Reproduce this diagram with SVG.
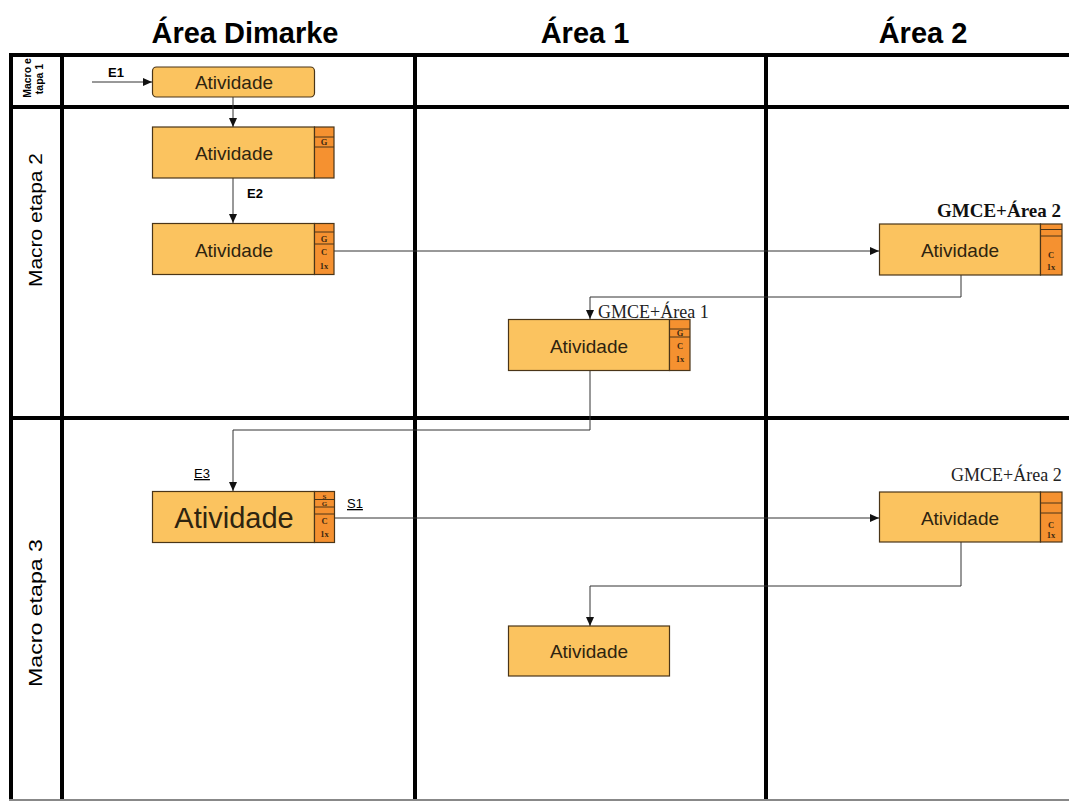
<svg xmlns="http://www.w3.org/2000/svg" width="1069" height="802" viewBox="0 0 1069 802">
  <style>
    .hdr { font-family: "Liberation Sans", Arial, sans-serif; font-weight: bold; font-size: 29px; fill: #000; text-anchor: middle; }
    .row { font-family: "Liberation Sans", Arial, sans-serif; font-size: 18px; fill: #000; text-anchor: middle; }
    .grid { stroke: #000; stroke-width: 4; fill: none; }
    .box { fill: #FBC35F; stroke: #4a3518; stroke-width: 1.2; }
    .side { fill: #F59130; stroke: #4a3518; stroke-width: 1.2; }
    .sep { stroke: #4a3518; stroke-width: 1; }
    .lbl { font-family: "Liberation Sans", Arial, sans-serif; font-size: 19px; fill: #2e2410; text-anchor: middle; }
    .big { font-size: 29px; }
    .tag { font-family: "Liberation Serif", "Times New Roman", serif; font-weight: bold; font-size: 8.5px; fill: #3a2810; text-anchor: middle; }
    .tag.sm { font-size: 7px; }
    .conn { fill: none; stroke: #333; stroke-width: 1; marker-end: url(#arrow); }
    .ev { font-family: "Liberation Sans", Arial, sans-serif; font-size: 13px; fill: #000; }
    .gm { font-family: "Liberation Serif", "Times New Roman", serif; font-size: 18px; fill: #222; }
    .mini { font-family: "Liberation Sans", Arial, sans-serif; font-weight: bold; font-size: 10.5px; fill: #000; text-anchor: middle; }
  </style>
  <defs>
    <marker id="arrow" markerUnits="userSpaceOnUse" markerWidth="9" markerHeight="8" refX="9" refY="4" orient="auto">
      <path d="M0,0 L9,4 L0,8 z" fill="#111"/>
    </marker>
    <clipPath id="cell1"><rect x="13" y="57" width="47" height="48"/></clipPath>
  </defs>

  <rect width="1069" height="802" fill="#fff"/>

  <!-- column headers -->
  <g id="headers">
    <text class="hdr" x="245" y="43">Área Dimarke</text>
    <text class="hdr" x="585" y="43">Área 1</text>
    <text class="hdr" x="923" y="43">Área 2</text>
  </g>

  <!-- swimlane grid -->
  <g id="grid">
    <line class="grid" x1="9" y1="55" x2="1069" y2="55"/>
    <line class="grid" x1="9" y1="107" x2="1069" y2="107"/>
    <line class="grid" x1="9" y1="418" x2="1069" y2="418"/>
    <line class="grid" x1="11" y1="53" x2="11" y2="800"/>
    <line class="grid" x1="62" y1="53" x2="62" y2="800"/>
    <line class="grid" x1="415" y1="53" x2="415" y2="800"/>
    <line class="grid" x1="766" y1="53" x2="766" y2="800"/>
    <line x1="9" y1="800" x2="1069" y2="800" stroke="#888" stroke-width="2"/>
  </g>

  <!-- row labels -->
  <g id="row-labels">
    <g clip-path="url(#cell1)">
      <text class="mini" transform="translate(31,78) rotate(-90)">Macro e</text>
      <text class="mini" transform="translate(43,79) rotate(-90)">tapa 1</text>
    </g>
    <text class="row" transform="translate(42,220) rotate(-90)" textLength="134" lengthAdjust="spacingAndGlyphs">Macro etapa 2</text>
    <text class="row" transform="translate(42,613) rotate(-90)" textLength="148" lengthAdjust="spacingAndGlyphs">Macro etapa 3</text>
  </g>

  <!-- connectors -->
  <g id="connectors">
    <path class="conn" d="M92,82 H152"/>
    <path class="conn" d="M233,97 V127"/>
    <path class="conn" d="M233,178 V223"/>
    <path class="conn" d="M334,251 H879"/>
    <path class="conn" d="M961,275 V297 H590 V319"/>
    <path class="conn" d="M590,371 V430 H233 V491"/>
    <path class="conn" d="M335,518 H879"/>
    <path class="conn" d="M961,542 V586 H590 V626"/>
    <text class="ev" x="108" y="77" font-weight="bold">E1</text>
    <text class="ev" x="247" y="198" font-weight="bold">E2</text>
    <text class="ev" x="194" y="478" text-decoration="underline">E3</text>
    <text class="ev" x="347" y="508" text-decoration="underline">S1</text>
  </g>

  <!-- Macro etapa 1 / Área Dimarke -->
  <g id="n1">
    <rect class="box" x="152.5" y="67" width="162" height="30" rx="4"/>
    <text class="lbl" x="234" y="89">Atividade</text>
  </g>

  <!-- Macro etapa 2 / Área Dimarke -->
  <g id="n2">
    <rect class="box" x="152.5" y="127" width="162" height="51"/>
    <rect class="side" x="314.5" y="127" width="19.5" height="51"/>
    <line class="sep" x1="314.5" y1="137" x2="334" y2="137"/>
    <line class="sep" x1="314.5" y1="147" x2="334" y2="147"/>
    <text class="tag" x="324" y="145">G</text>
    <text class="lbl" x="234" y="160">Atividade</text>
  </g>

  <g id="n3">
    <rect class="box" x="152.5" y="223.5" width="162" height="51"/>
    <rect class="side" x="314.5" y="223.5" width="19.5" height="51"/>
    <line class="sep" x1="314.5" y1="232" x2="334" y2="232"/>
    <line class="sep" x1="314.5" y1="244" x2="334" y2="244"/>
    <text class="tag" x="324" y="242">G</text>
    <text class="tag" x="324" y="255">C</text>
    <text class="tag" x="324" y="269">1x</text>
    <text class="lbl" x="234" y="257">Atividade</text>
  </g>

  <!-- Macro etapa 2 / Área 2 -->
  <g id="n4">
    <text x="937" y="217" font-family="Liberation Serif, Times New Roman, serif" font-weight="bold" font-size="19" fill="#111">GMCE+Área 2</text>
    <rect class="box" x="879.5" y="224" width="161" height="51"/>
    <rect class="side" x="1040.5" y="224" width="21.5" height="51"/>
    <line class="sep" x1="1040.5" y1="229.5" x2="1062" y2="229.5"/>
    <line class="sep" x1="1040.5" y1="236" x2="1062" y2="236"/>
    <text class="tag" x="1051" y="258">C</text>
    <text class="tag" x="1051" y="270">1x</text>
    <text class="lbl" x="960" y="257">Atividade</text>
  </g>

  <!-- Macro etapa 2 / Área 1 -->
  <g id="n5">
    <text class="gm" x="598" y="318">GMCE+Área 1</text>
    <rect class="box" x="508.5" y="319.5" width="161" height="51"/>
    <rect class="side" x="669.5" y="319.5" width="20.5" height="51"/>
    <line class="sep" x1="669.5" y1="329" x2="690" y2="329"/>
    <line class="sep" x1="669.5" y1="337" x2="690" y2="337"/>
    <text class="tag" x="680" y="336">G</text>
    <text class="tag" x="680" y="349">C</text>
    <text class="tag" x="680" y="362">1x</text>
    <text class="lbl" x="589" y="353">Atividade</text>
  </g>

  <!-- Macro etapa 3 / Área Dimarke -->
  <g id="n6">
    <rect class="box" x="152.5" y="491.5" width="162" height="51"/>
    <rect class="side" x="314.5" y="491.5" width="20" height="51"/>
    <line class="sep" x1="314.5" y1="499.5" x2="334.5" y2="499.5"/>
    <line class="sep" x1="314.5" y1="507" x2="334.5" y2="507"/>
    <line class="sep" x1="314.5" y1="514" x2="334.5" y2="514"/>
    <text class="tag sm" x="324.5" y="498.5">S</text>
    <text class="tag sm" x="324.5" y="506">G</text>
    <text class="tag" x="324.5" y="524">C</text>
    <text class="tag" x="324.5" y="537">1x</text>
    <text class="lbl big" x="234" y="528">Atividade</text>
  </g>

  <!-- Macro etapa 3 / Área 2 -->
  <g id="n7">
    <text class="gm" x="951" y="481">GMCE+Área 2</text>
    <rect class="box" x="879.5" y="492" width="161" height="50"/>
    <rect class="side" x="1040.5" y="492" width="21.5" height="50"/>
    <line class="sep" x1="1040.5" y1="503" x2="1062" y2="503"/>
    <line class="sep" x1="1040.5" y1="513" x2="1062" y2="513"/>
    <text class="tag" x="1051" y="528">C</text>
    <text class="tag" x="1051" y="538">1x</text>
    <text class="lbl" x="960" y="525">Atividade</text>
  </g>

  <!-- Macro etapa 3 / Área 1 -->
  <g id="n8">
    <rect class="box" x="508.5" y="626" width="161" height="50"/>
    <text class="lbl" x="589" y="658">Atividade</text>
  </g>
</svg>
